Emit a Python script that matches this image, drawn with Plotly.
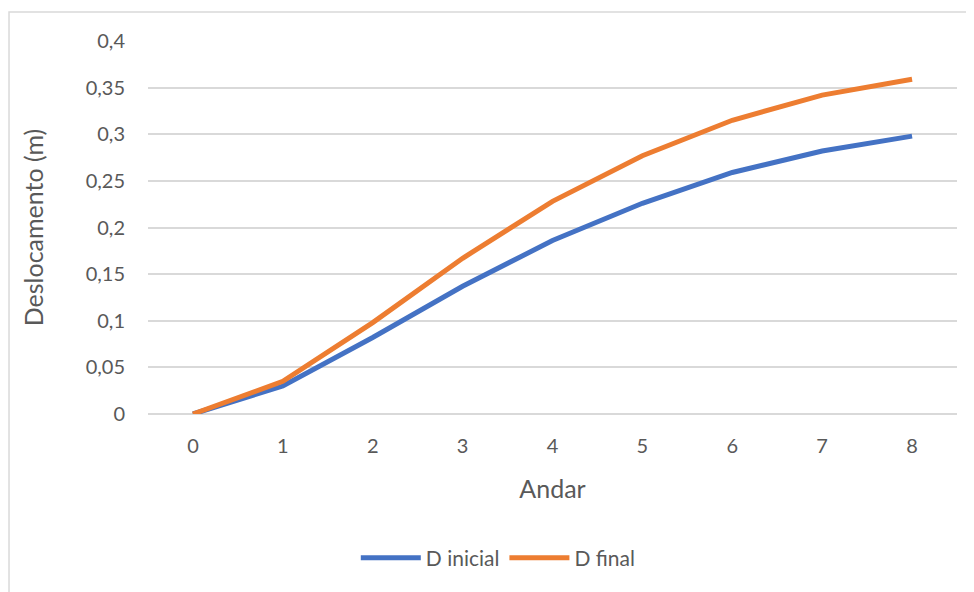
import plotly.graph_objects as go

andar = [0, 1, 2, 3, 4, 5, 6, 7, 8]
d_inicial = [0, 0.030, 0.082, 0.137, 0.186, 0.226, 0.259, 0.282, 0.298]
d_final = [0, 0.035, 0.098, 0.167, 0.228, 0.277, 0.315, 0.342, 0.359]
y_ticks = [0, 0.05, 0.1, 0.15, 0.2, 0.25, 0.3, 0.35, 0.4]
y_tick_text = ["0", "0,05", "0,1", "0,15", "0,2", "0,25", "0,3", "0,35", "0,4"]

FONT = "Lato, Noto Sans, sans-serif"
fig = go.Figure()
fig.add_trace(go.Scatter(x=andar, y=d_inicial, mode="lines", name="D inicial",
                         line=dict(color="#4472C4", width=5)))
fig.add_trace(go.Scatter(x=andar, y=d_final, mode="lines", name="D final",
                         line=dict(color="#ED7D31", width=5)))

fig.update_layout(
    width=974, height=592,
    margin=dict(l=140, r=25, t=33, b=186),
    paper_bgcolor="white", plot_bgcolor="white",
    font=dict(family=FONT, color="#595959", size=20),
    showlegend=True,
    legend=dict(orientation="h", x=0.433, y=-0.386, xanchor="center", yanchor="middle",
                font=dict(size=21, color="#595959"), itemwidth=60),
    xaxis=dict(range=[-0.5, 8.5], tickmode="array", tickvals=andar,
               ticktext=[str(a) for a in andar], showgrid=False, zeroline=False,
               showline=False, ticks="", ticklabelstandoff=18,
               title=dict(text="Andar", font=dict(size=25, color="#595959"), standoff=24)),
    yaxis=dict(range=[0, 0.4], tickmode="array", tickvals=y_ticks, ticktext=y_tick_text,
               showgrid=True, gridcolor="#D9D9D9", gridwidth=1.5, zeroline=True,
               zerolinecolor="#D9D9D9", zerolinewidth=1.5, showline=False, ticks="",
               ticklabelstandoff=22,
               title=dict(text="Deslocamento (m)", font=dict(size=25, color="#595959"), standoff=34)),
    shapes=[dict(type="rect", xref="paper", yref="paper", x0=-0.1718, x1=1.1,
                 y0=-0.7, y1=1.0777, line=dict(color="#D9D9D9", width=1.5),
                 fillcolor="rgba(0,0,0,0)", layer="below")],
)
fig.write_html("out.html")
